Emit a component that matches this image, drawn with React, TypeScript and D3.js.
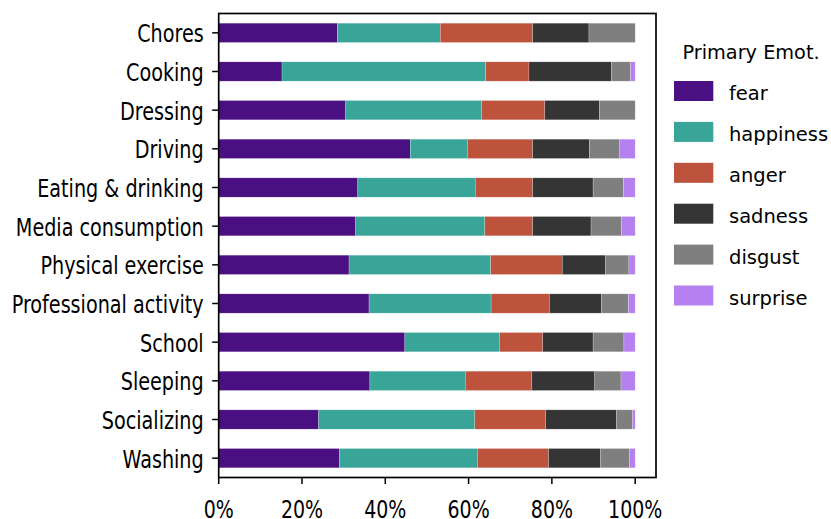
import React from "react";
import * as d3 from "d3";

const activities = [
  "Chores",
  "Cooking",
  "Dressing",
  "Driving",
  "Eating & drinking",
  "Media consumption",
  "Physical exercise",
  "Professional activity",
  "School",
  "Sleeping",
  "Socializing",
  "Washing",
];

const emotions = ["fear", "happiness", "anger", "sadness", "disgust", "surprise"];

const fear = [0.285, 0.152, 0.305, 0.46, 0.334, 0.329, 0.313, 0.361, 0.447, 0.363, 0.24, 0.29];
const happiness = [0.247, 0.489, 0.326, 0.137, 0.282, 0.31, 0.34, 0.293, 0.227, 0.229, 0.375, 0.331];
const anger = [0.222, 0.104, 0.152, 0.157, 0.138, 0.115, 0.172, 0.14, 0.104, 0.16, 0.17, 0.171];
const sadness = [0.135, 0.198, 0.131, 0.136, 0.145, 0.14, 0.104, 0.125, 0.121, 0.151, 0.17, 0.125];
const disgust = [0.111, 0.046, 0.086, 0.073, 0.073, 0.073, 0.056, 0.065, 0.074, 0.063, 0.039, 0.069];
const surprise = [0.0, 0.011, 0.0, 0.037, 0.028, 0.033, 0.015, 0.016, 0.027, 0.034, 0.006, 0.014];

const colors = ["#4a1082", "#38a598", "#bd523d", "#353535", "#7f7f7f", "#b580ef"];

const xTicks = [0, 0.2, 0.4, 0.6, 0.8, 1.0];

const FONT = "DejaVu Sans";

export default function App() {
  const W = 831;
  const H = 519;
  const left = 218.7;
  const right = 656;
  const top = 13.5;
  const bottom = 477.5;

  const x = d3.scaleLinear().domain([0, 1.05]).range([left, right]);
  const y = d3
    .scaleBand<string>()
    .domain(activities)
    .range([top, bottom])
    .paddingInner(0.5)
    .paddingOuter(0.25);

  const rows = activities.map((a, i) => {
    const o: any = { activity: a };
    o.fear = fear[i];
    o.happiness = happiness[i];
    o.anger = anger[i];
    o.sadness = sadness[i];
    o.disgust = disgust[i];
    o.surprise = surprise[i];
    return o;
  });

  const stack = d3.stack<any>().keys(emotions);
  const series = stack(rows);

  const sx = 0.79;

  return (
    <svg
      width={W}
      height={H}
      style={{ position: "absolute", left: 0, top: 0, display: "block" }}
      fontFamily={FONT}
    >
      <rect x={0} y={0} width={W} height={H} fill="white" />
      {series.map((s, si) => (
        <g key={emotions[si]} fill={colors[si]}>
          {s.map((d, i) => {
            const w = x(d[1]) - x(d[0]);
            if (w <= 0) return null;
            return (
              <rect
                key={i}
                x={x(d[0])}
                y={y(activities[i])!}
                width={w}
                height={y.bandwidth()}
                stroke="white"
                strokeOpacity={0.45}
                strokeWidth={0.5}
              />
            );
          })}
        </g>
      ))}
      {/* frame */}
      <rect
        x={left}
        y={top}
        width={right - left}
        height={bottom - top}
        fill="none"
        stroke="black"
        strokeWidth={1.7}
      />
      {/* y ticks */}
      {activities.map((a) => {
        const cy = y(a)! + y.bandwidth() / 2;
        return (
          <g key={a}>
            <line x1={left - 6.5} x2={left} y1={cy} y2={cy} stroke="black" strokeWidth={1.5} />
            <text
              transform={`translate(${left - 15},${cy + 9.5}) scale(${sx},1)`}
              textAnchor="end"
              fontSize={24.3}
              fill="black"
            >
              {a}
            </text>
          </g>
        );
      })}
      {/* x ticks */}
      {xTicks.map((t) => (
        <g key={t}>
          <line x1={x(t)} x2={x(t)} y1={bottom} y2={bottom + 6.5} stroke="black" strokeWidth={1.5} />
          <text
            transform={`translate(${x(t)},${bottom + 40.5}) scale(${sx},1)`}
            textAnchor="middle"
            fontSize={24}
            fill="black"
          >
            {d3.format(".0%")(t)}
          </text>
        </g>
      ))}
      {/* legend */}
      <text x={682.5} y={59.3} fontSize={19.3} fill="black">
        Primary Emot.
      </text>
      {emotions.map((e, i) => {
        const cy = 91 + i * 40.9;
        return (
          <g key={e}>
            <rect x={674} y={cy - 10} width={39.3} height={20} fill={colors[i]} />
            <text x={729} y={cy + 9} fontSize={19.5} fill="black">
              {e}
            </text>
          </g>
        );
      })}
    </svg>
  );
}
